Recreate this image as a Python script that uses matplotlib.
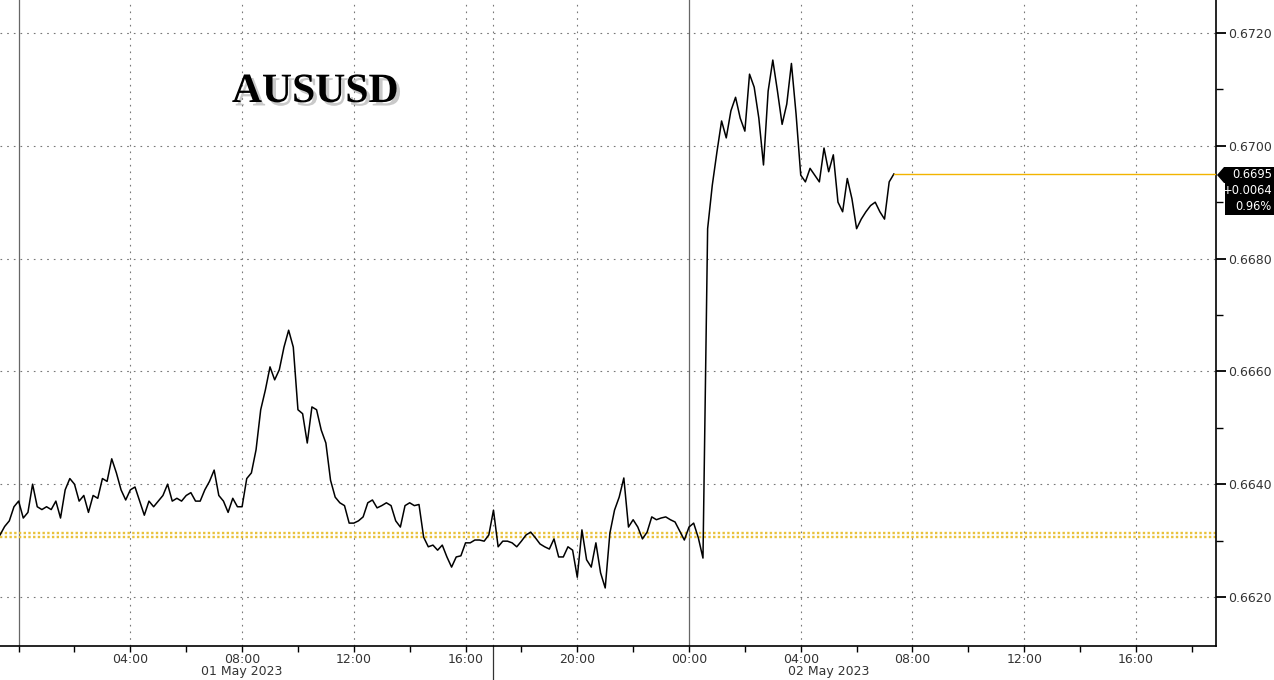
import numpy as np
import pandas as pd
import matplotlib
matplotlib.use("Agg")
import matplotlib.pyplot as plt
import matplotlib.dates as mdates
import matplotlib.patheffects as pe
from matplotlib.patches import Polygon
from matplotlib.ticker import MultipleLocator, FixedLocator

# ---------------- data ----------------
start_time = "2023-04-30 23:20"
step = "10min"
prices = [
    0.66310, 0.66325, 0.66335, 0.66360, 0.66370, 0.66340, 0.66350, 0.66400, 0.66360, 0.66355,
    0.66360, 0.66355, 0.66370, 0.66340, 0.66390, 0.66410, 0.66400, 0.66370, 0.66380, 0.66350,
    0.66380, 0.66375, 0.66410, 0.66405, 0.66445, 0.66420, 0.66390, 0.66372, 0.66390, 0.66395,
    0.66370, 0.66345, 0.66370, 0.66360, 0.66370, 0.66380, 0.66400, 0.66370, 0.66375, 0.66370,
    0.66380, 0.66385, 0.66370, 0.66370, 0.66390, 0.66405, 0.66425, 0.66380, 0.66370, 0.66350,
    0.66375, 0.66360, 0.66360, 0.66410, 0.66420, 0.66461, 0.66532, 0.66567, 0.66608, 0.66585,
    0.66603, 0.66643, 0.66673, 0.66643, 0.66532, 0.66525, 0.66473, 0.66537, 0.66532, 0.66496,
    0.66473, 0.66407, 0.66377, 0.66367, 0.66362, 0.66331, 0.66331, 0.66335, 0.66342, 0.66367,
    0.66372, 0.66358, 0.66362, 0.66367, 0.66362, 0.66335, 0.66324, 0.66362, 0.66367, 0.66362,
    0.66364, 0.66306, 0.66289, 0.66292, 0.66283, 0.66292, 0.66271, 0.66253, 0.66271, 0.66273,
    0.66296, 0.66296, 0.66301, 0.66301, 0.66299, 0.66310, 0.66354, 0.66289, 0.66299, 0.66299,
    0.66296, 0.66289, 0.66299, 0.66310, 0.66315, 0.66305, 0.66294, 0.66289, 0.66285, 0.66303,
    0.66271, 0.66271, 0.66289, 0.66283, 0.66235, 0.66319, 0.66266, 0.66253, 0.66296, 0.66243,
    0.66216, 0.66313, 0.66354, 0.66377, 0.66411, 0.66324, 0.66337, 0.66324, 0.66303, 0.66315,
    0.66342, 0.66337, 0.66340, 0.66342, 0.66337, 0.66333, 0.66317, 0.66301, 0.66324, 0.66331,
    0.66305, 0.66269, 0.66853, 0.66930, 0.66989, 0.67044, 0.67014, 0.67062, 0.67086, 0.67049,
    0.67026, 0.67127, 0.67104, 0.67049, 0.66966, 0.67097, 0.67152, 0.67097, 0.67038, 0.67074,
    0.67146, 0.67056, 0.66948, 0.66936, 0.66960, 0.66948, 0.66936, 0.66996, 0.66954, 0.66984,
    0.66900, 0.66883, 0.66942, 0.66906, 0.66853, 0.66870, 0.66883, 0.66894, 0.66900, 0.66883,
    0.66870, 0.66936, 0.66950,
]
prev_close = 0.6631
last_price = 0.6695
change = "+0.0064"
change_pct = "0.96%"
title = "AUSUSD"
y_ticks = [0.6620, 0.6640, 0.6660, 0.6680, 0.6700, 0.6720]
day_labels = ["01 May 2023", "02 May 2023"]

times = pd.date_range(start_time, periods=len(prices), freq=step)

# ---------------- figure ----------------
W, H = 1274, 680
fig = plt.figure(figsize=(W / 100, H / 100), dpi=100, facecolor="white")
ax = fig.add_axes([0, 34 / H, 1216 / W, 646 / H])
ax.set_facecolor("white")

font = ["Liberation Sans Narrow", "DejaVu Sans"]

x0 = pd.Timestamp("2023-04-30 23:20")
x1 = pd.Timestamp("2023-05-02 18:52")
ax.set_xlim(x0, x1)
ax.set_ylim(0.661131, 0.672585)

# grid
grid_kw = dict(color="#777777", lw=0.8, ls=(0, (1.5, 4.5)), zorder=1)
for yt in y_ticks:
    ax.axhline(yt, **grid_kw)
hours4 = pd.date_range("2023-05-01 04:00", "2023-05-02 16:00", freq="4h")
for t in hours4:
    if t.hour != 0:
        ax.axvline(t, **grid_kw)
ax.axvline(pd.Timestamp("2023-05-01 17:00"), **grid_kw)

# day separators
for t in ["2023-05-01 00:00", "2023-05-02 00:00"]:
    ax.axvline(pd.Timestamp(t), color="#666666", lw=0.9, zorder=1)
# session marker below axis
ax.plot([pd.Timestamp("2023-05-01 17:00")] * 2, [0, -0.06], color="#333333", lw=0.9,
        transform=ax.get_xaxis_transform(), clip_on=False)

# previous close dotted (double)
gold = "#e9c23c"
ax.axhline(prev_close + 0.00003, color=gold, lw=1.7, ls=(0, (1, 1)), zorder=2)
ax.axhline(prev_close - 0.00004, color=gold, lw=1.7, ls=(0, (1, 1)), zorder=2)

# price line
ax.plot(times, prices, color="black", lw=1.1, zorder=3)
# last price line to right
ax.plot([times[-1], x1], [last_price, last_price], color="#f2b400", lw=1.0, zorder=3)

# spines
for s in ["left", "top"]:
    ax.spines[s].set_visible(False)
for s in ["right", "bottom"]:
    ax.spines[s].set_color("black")
    ax.spines[s].set_linewidth(1.2)

# y axis
ax.yaxis.tick_right()
ax.yaxis.set_major_locator(FixedLocator(y_ticks))
ax.yaxis.set_minor_locator(MultipleLocator(0.001))
ax.yaxis.set_major_formatter(plt.FuncFormatter(lambda v, p: f"{v:.4f}"))
ax.tick_params(axis="y", which="major", direction="out", length=7, width=1.3, pad=2,
               labelsize=9, labelcolor="#333333", colors="black")
ax.tick_params(axis="y", which="minor", direction="out", length=5, width=1)
for lab in ax.get_yticklabels():
    lab.set_family(font)

# x axis
ax.xaxis.set_major_locator(mdates.HourLocator(byhour=range(0, 24, 4)))
ax.xaxis.set_minor_locator(mdates.HourLocator(byhour=range(0, 24, 2)))
ax.xaxis.set_major_formatter(mdates.DateFormatter("%H:%M"))
ax.tick_params(axis="x", which="both", direction="out", length=4, width=1, pad=1,
               labelsize=9, labelcolor="#333333")
fig.canvas.draw()
for lab in ax.get_xticklabels():
    lab.set_family(font)
    if lab.get_text() == "00:00" and lab.get_position()[0] < mdates.date2num(pd.Timestamp("2023-05-01 12:00")):
        lab.set_visible(False)

# day labels
for lbl, t in zip(day_labels, ["2023-05-01 08:00", "2023-05-02 05:00"]):
    ax.text(pd.Timestamp(t), -26 / 646, lbl, transform=ax.get_xaxis_transform(),
            ha="center", va="center", fontsize=9, color="#333333", family=font)

# title with shadow
fig.text(315 / W, 1 - 92 / H, title, ha="center", va="center", fontsize=30,
         fontweight="bold", family=["Liberation Serif", "DejaVu Serif"], color="black",
         path_effects=[pe.SimplePatchShadow(offset=(2.5, -2.5), shadow_rgbFace="#666666", alpha=0.35),
                       pe.Normal()])

# last-price box
pts = [(1274, 167), (1224, 167), (1217, 175), (1224, 183), (1225, 183), (1225, 215), (1274, 215)]
poly = Polygon([(x / W, 1 - y / H) for x, y in pts], closed=True, transform=fig.transFigure,
               facecolor="black", edgecolor="none")
fig.patches.append(poly)
for txt, yy in zip([f"{last_price:.4f}", change, change_pct], [175, 191, 207]):
    fig.text(1272 / W, 1 - yy / H, txt, ha="right", va="center", fontsize=8.3, color="white",
             family=font)

fig.savefig("out.png", dpi=100, facecolor="white")
